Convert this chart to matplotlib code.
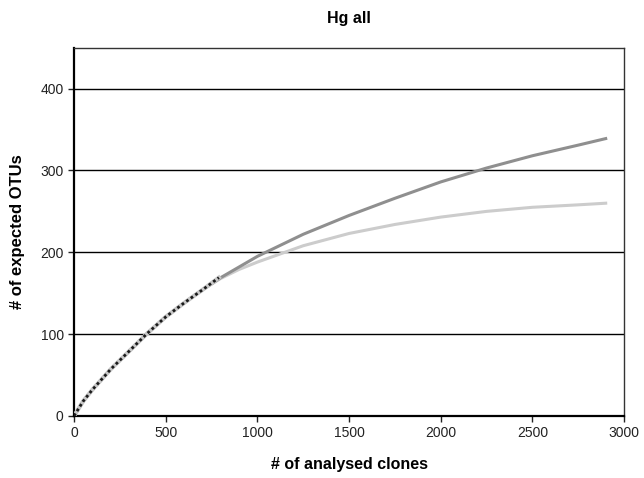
import numpy as np
import matplotlib
matplotlib.use("Agg")
import matplotlib.pyplot as plt

plt.rcParams['font.family'] = ['Liberation Sans', 'DejaVu Sans']

# Rarefaction curves
clones = [0, 50, 100, 200, 300, 400, 500, 600, 700, 800, 900, 1000,
          1250, 1500, 1750, 2000, 2250, 2500, 2750, 2900]
otus_upper = [0, 18, 32, 57, 79, 101, 121, 138, 154, 169, 182, 195,
              222, 245, 266, 286, 303, 318, 331, 339]
otus_lower = [0, 18, 32, 57, 79, 101, 121, 138, 154, 168, 179, 188,
              208, 223, 234, 243, 250, 255, 258, 260]

obs_clones = [0, 50, 100, 200, 300, 400, 500, 600, 700, 790]
obs_otus = [0, 18, 32, 57, 79, 101, 121, 138, 154, 169]

fig, ax = plt.subplots(figsize=(6.44, 4.78), dpi=100)
fig.subplots_adjust(left=0.115, right=0.969, bottom=0.130, top=0.900)

ax.plot(clones, otus_upper, color='#8f8f8f', lw=2.2, zorder=3)
ax.plot(clones, otus_lower, color='#cccccc', lw=2.2, zorder=2)
ax.plot(obs_clones, obs_otus, color='#c8c8c8', lw=3.0, zorder=4)
ax.plot(obs_clones, obs_otus, color='#1a1a1a', lw=2.0, ls=(0, (1, 1)), zorder=5)

ax.set_xlim(0, 3000)
ax.set_ylim(0, 450)
ax.set_xticks(range(0, 3001, 500))
ax.set_yticks(range(0, 401, 100))
ax.yaxis.grid(True, color='black', lw=1.0)
ax.set_axisbelow(True)

for s in ['left', 'bottom']:
    ax.spines[s].set_linewidth(1.6)
    ax.spines[s].set_color('black')
for s in ['top', 'right']:
    ax.spines[s].set_linewidth(1.0)
    ax.spines[s].set_color('#333333')

ax.tick_params(direction='out', length=4, width=1, labelsize=10, colors='#222222')

ax.set_title('Hg all', fontsize=11.5, fontweight='bold', pad=18)
ax.set_xlabel('# of analysed clones', fontsize=11.5, fontweight='bold', labelpad=12)
ax.set_ylabel('# of expected OTUs', fontsize=12, fontweight='bold', labelpad=11)

fig.savefig('out.png', dpi=100)
